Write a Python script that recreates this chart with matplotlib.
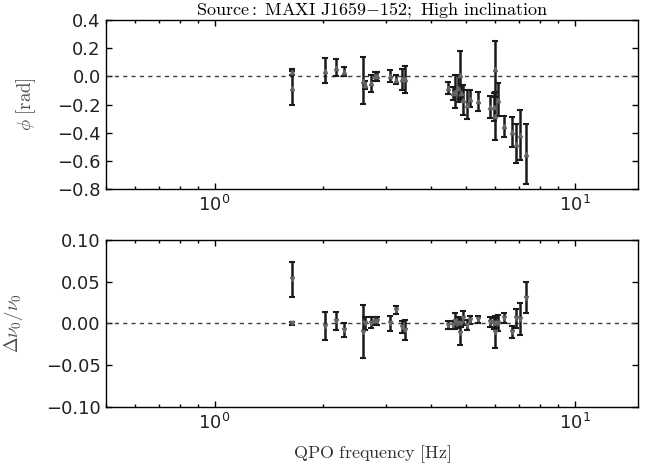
import numpy as np
import matplotlib
matplotlib.use("Agg")
import matplotlib.pyplot as plt
from matplotlib.ticker import LogLocator, NullFormatter

plt.rcParams['mathtext.fontset'] = 'cm'
plt.rcParams['font.family'] = 'DejaVu Sans'

# QPO frequencies [Hz]
freq = [1.636, 1.636, 2.03, 2.18, 2.28, 2.59, 2.61, 2.72, 2.78, 2.82,
        3.07, 3.19, 3.31, 3.37, 4.44, 4.59, 4.64, 4.73, 4.79, 4.84,
        4.90, 5.02, 5.11, 5.38, 5.81, 5.96, 6.00, 6.02, 6.13, 6.35,
        6.68, 6.88, 7.04, 7.34]

# phase lag [rad] and errors
phi = [0.03, -0.08, 0.04, 0.06, 0.033, -0.03, -0.06, -0.05, 0.0, 0.0,
       0.003, -0.024, -0.02, -0.02, -0.084, -0.12, -0.11, -0.085, 0.01, -0.115,
       -0.168, -0.20, -0.159, -0.177, -0.22, -0.22, -0.28, 0.05, -0.165, -0.354,
       -0.395, -0.478, -0.417, -0.553]
phi_err = [0.02, 0.12, 0.088, 0.06, 0.033, 0.165, 0.03, 0.06, 0.03, 0.03,
           0.04, 0.033, 0.075, 0.095, 0.042, 0.047, 0.116, 0.095, 0.173, 0.053,
           0.107, 0.104, 0.062, 0.067, 0.079, 0.10, 0.17, 0.20, 0.12, 0.075,
           0.104, 0.14, 0.178, 0.214]

# relative frequency shift and errors
dnu = [0.0, 0.053, -0.003, 0.003, -0.008, -0.01, 0.0, 0.001, 0.003, 0.003,
       0.0, 0.016, -0.004, -0.008, -0.002, -0.002, 0.003, 0.001, -0.011, 0.001,
       0.0066, -0.002, 0.004, 0.005, 0.002, 0.0, -0.01, 0.0, 0.0, 0.0066,
       -0.0104, 0.006, 0.005, 0.031]
dnu_err = [0.002, 0.021, 0.017, 0.0105, 0.008, 0.032, 0.008, 0.007, 0.005, 0.005,
           0.009, 0.005, 0.0075, 0.012, 0.005, 0.005, 0.01, 0.007, 0.015, 0.0055,
           0.0084, 0.0064, 0.005, 0.004, 0.006, 0.007, 0.019, 0.006, 0.0096, 0.0056,
           0.0074, 0.011, 0.019, 0.019]

fig = plt.figure(figsize=(6.64, 4.72), dpi=100)
ax1 = fig.add_axes([0.16, 0.5996, 0.801, 0.358])
ax2 = fig.add_axes([0.16, 0.138, 0.801, 0.3535])

for ax, y, yerr, mk in [(ax1, phi, phi_err, '^'), (ax2, dnu, dnu_err, 'v')]:
    ax.axhline(0, color='0.25', ls='--', lw=1, dashes=(3, 3))
    ax.errorbar(freq, y, yerr=yerr, fmt=mk, color='0.4', ms=3,
                ecolor='#1a1a1a', elinewidth=1.8, capsize=2.5, capthick=1.5)
    ax.set_xscale('log')
    ax.set_xlim(0.5, 15)
    ax.xaxis.set_minor_locator(LogLocator(base=10, subs=np.arange(2, 10)))
    ax.xaxis.set_minor_formatter(NullFormatter())
    ax.tick_params(which='both', direction='in', top=True, right=True,
                   labelsize=13, labelcolor='#222222', pad=4)
    ax.tick_params(which='major', length=4, width=1)
    ax.tick_params(which='minor', length=2.5, width=1)
    for s in ax.spines.values():
        s.set_linewidth(1)

ax1.set_ylim(-0.8, 0.4)
ax1.set_yticks(np.arange(-0.8, 0.41, 0.2))
ax1.set_ylabel(r'$\phi\ \mathrm{[rad]}$', fontsize=13.5, color='0.3')
ax1.yaxis.set_label_coords(-0.128, 0.5)
ax1.set_title(r'$\mathrm{Source}:\ \mathrm{MAXI\ J1659}{-}\mathrm{152;\ High\ inclination}$',
              fontsize=13, pad=2)

ax2.set_ylim(-0.1, 0.1)
ax2.set_yticks([-0.1, -0.05, 0.0, 0.05, 0.1])
ax2.set_ylabel(r'$\Delta\nu_0/\nu_0$', fontsize=13.5, color='0.3')
ax2.yaxis.set_label_coords(-0.152, 0.5)
ax2.set_xlabel(r'$\mathrm{QPO\ frequency\ [Hz]}$', fontsize=13, color='0.2', labelpad=8)

fig.savefig('out.png', dpi=100)
